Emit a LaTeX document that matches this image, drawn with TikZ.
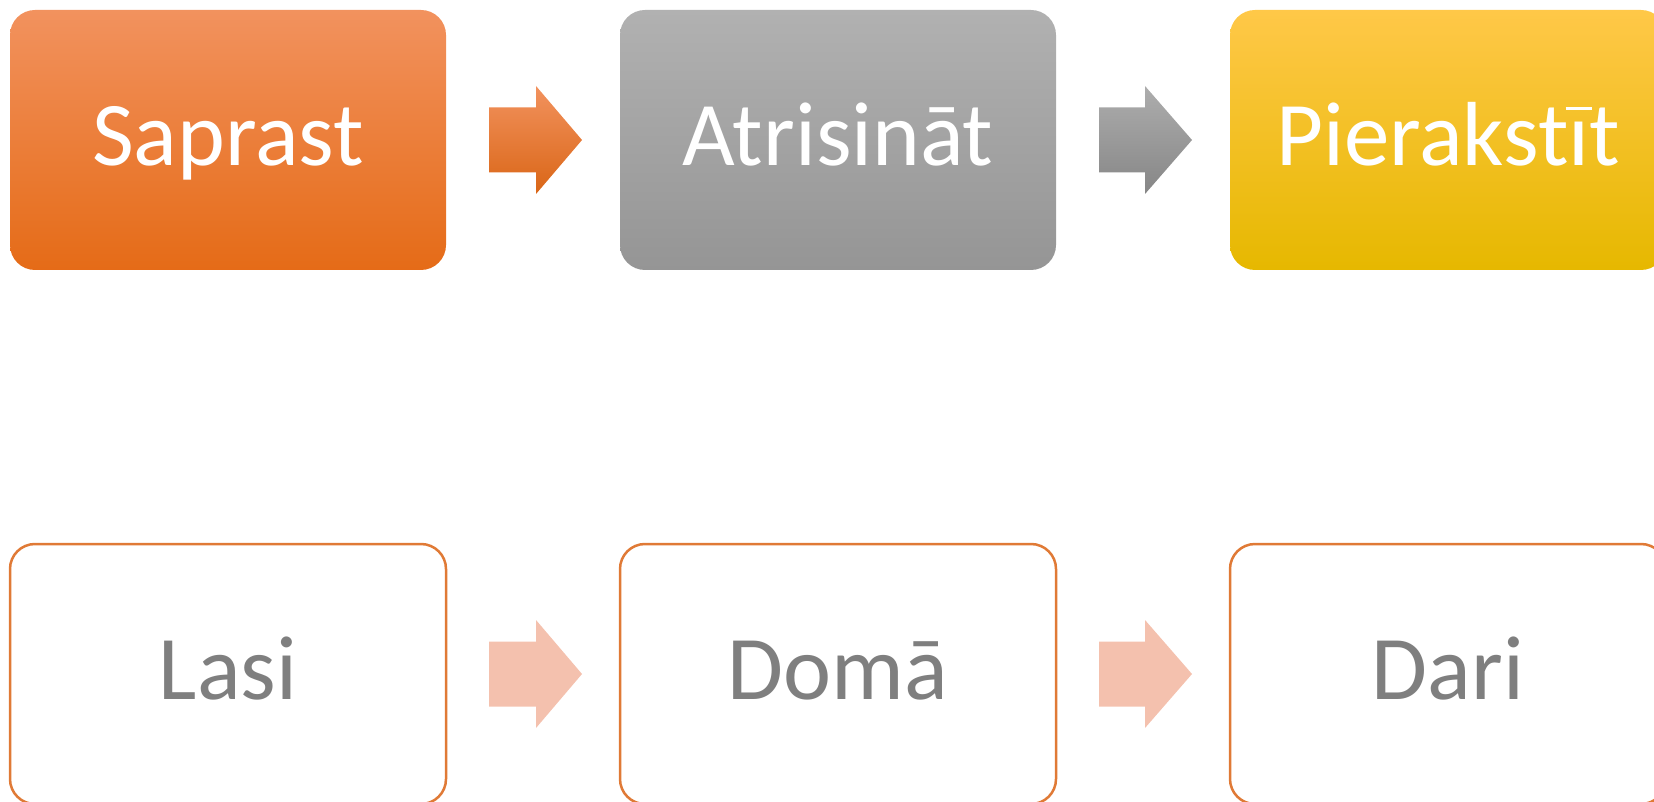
\documentclass[tikz,border=0pt]{standalone}
\usepackage{fontspec}
\setmainfont{Carlito}
\usetikzlibrary{calc}
\definecolor{orTop}{HTML}{F2925E}
\definecolor{orMid}{HTML}{F5812C}
\definecolor{orBot}{HTML}{E56B17}
\definecolor{grTop}{HTML}{B1B1B1}
\definecolor{grMid}{HTML}{A3A3A3}
\definecolor{grBot}{HTML}{959595}
\definecolor{yeTop}{HTML}{FFC848}
\definecolor{yeMid}{HTML}{FFC60A}
\definecolor{yeBot}{HTML}{E6B800}
\definecolor{salmon}{HTML}{F4C1AE}
\definecolor{boxline}{HTML}{E07A36}
\definecolor{labelgray}{HTML}{7F7F7F}
% i with macron, macron raised to cap height as in the reference
\newcommand\ibar{\ooalign{ı\cr\hidewidth\rule[0.61em]{0.29em}{0.036em}\hidewidth\cr}}
\newcommand\flowarrow[3]{%
  \path[#3] ($(#1.east)+(43,-32.5)$) -- ($(#1.east)+(#2,-32.5)$) -- ($(#1.east)+(#2,-54)$)
    -- ($(#1.east)+(136,0)$) -- ($(#1.east)+(#2,54)$) -- ($(#1.east)+(#2,32.5)$)
    -- ($(#1.east)+(43,32.5)$) -- cycle;}
\begin{document}
\begin{tikzpicture}[x=1pt,y=-1pt,
  basebox/.style={rounded corners=25pt, minimum width=436pt, minimum height=260pt,
    inner sep=0pt, outer sep=0pt, font=\fontsize{91}{100}\selectfont,
    text height=58.6pt, text depth=7.4pt},
  topbox/.style={basebox, text=white},
  botbox/.style={basebox, draw=boxline, line width=2.5pt, fill=white, text=labelgray},
  orarrow/.style={shade, top color=orTop, bottom color=orBot!95!black},
  grarrow/.style={shade, top color=grTop!105, bottom color=grBot!90!black},
  lightarrow/.style={fill=salmon}
]
\useasboundingbox (0,0) rectangle (1654,802);
\clip (0,0) rectangle (1654,802);
\node[topbox, shade, top color=orTop, middle color=orMid, bottom color=orBot] (s1) at (228,140) {Saprast};
\node[topbox, shade, top color=grTop, middle color=grMid, bottom color=grBot] (s2) at (838,140) {Atrisināt};
\node[topbox, shade, top color=yeTop, middle color=yeMid, bottom color=yeBot] (s3) at (1448,140) {Pierakst\ibar t};
\node[botbox] (b1) at (228,674) {Lasi};
\node[botbox] (b2) at (838,674) {Domā};
\node[botbox] (b3) at (1448,674) {Dari};
\flowarrow{s1}{90}{orarrow}
\flowarrow{s2}{89}{grarrow}
\flowarrow{b1}{90}{lightarrow}
\flowarrow{b2}{89}{lightarrow}
\end{tikzpicture}
\end{document}
